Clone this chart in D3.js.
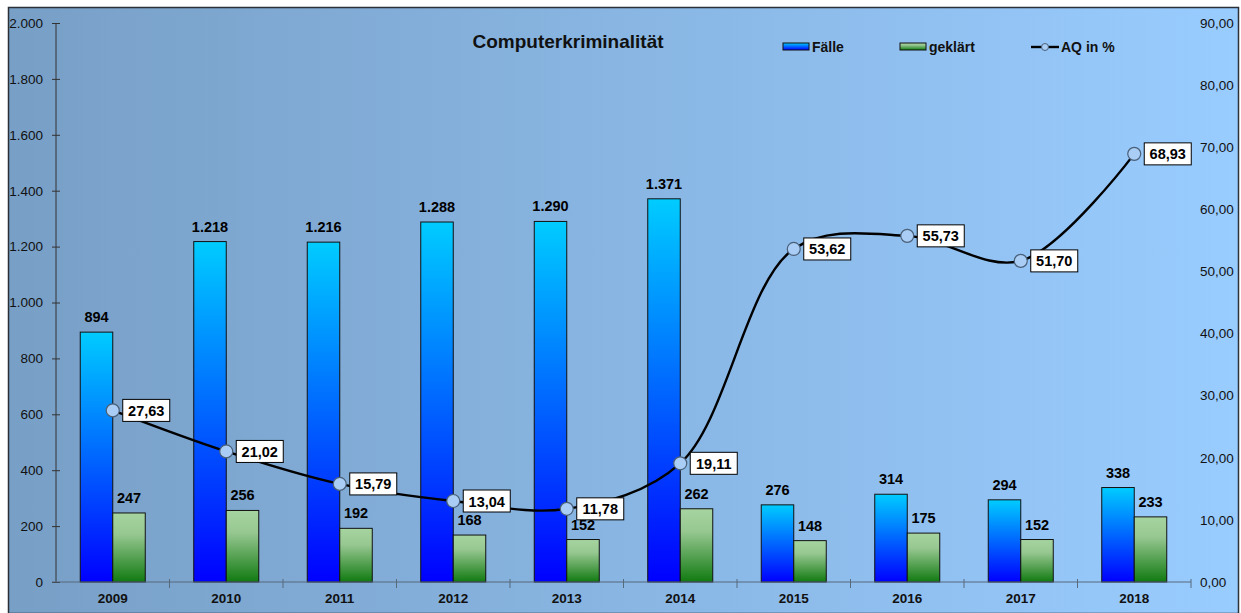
<!DOCTYPE html>
<html><head><meta charset="utf-8">
<script src="https://cdn.jsdelivr.net/npm/d3@7"></script>
<style>html,body{margin:0;padding:0;background:#fff}svg{display:block;font-family:"Liberation Sans",Arial,sans-serif}</style>
</head><body>
<svg id="c" width="1241" height="613"></svg>
<script>
const years = ["2009","2010","2011","2012","2013","2014","2015","2016","2017","2018"];
const faelle = [894,1218,1216,1288,1290,1371,276,314,294,338];
const geklaert = [247,256,192,168,152,262,148,175,152,233];
const aq = [27.63,21.02,15.79,13.04,11.78,19.11,53.62,55.73,51.70,68.93];
const leftTicks = [0,200,400,600,800,1000,1200,1400,1600,1800,2000];
const rightTicks = [0,10,20,30,40,50,60,70,80,90];

const de = d3.formatLocale({decimal:",", thousands:".", grouping:[3], currency:["","€"]});
const fmtInt = de.format(",d");
const fmtPct = de.format(",.2f");

const svg = d3.select("#c");
const defs = svg.append("defs");

const bg = defs.append("linearGradient").attr("id","bg").attr("x1",0).attr("x2",1).attr("y1",0).attr("y2",0);
bg.append("stop").attr("offset",0).attr("stop-color","#789fc6");
bg.append("stop").attr("offset",1).attr("stop-color","#99ccff");

const gF = defs.append("linearGradient").attr("id","gF").attr("x1",0).attr("x2",0).attr("y1",0).attr("y2",1);
gF.append("stop").attr("offset",0).attr("stop-color","#00ccff");
gF.append("stop").attr("offset",1).attr("stop-color","#0000ff");
const gG = defs.append("linearGradient").attr("id","gG").attr("x1",0).attr("x2",0).attr("y1",0).attr("y2",1);
gG.append("stop").attr("offset",0).attr("stop-color","#a6d4a0");
gG.append("stop").attr("offset",0.3).attr("stop-color","#98c892");
gG.append("stop").attr("offset",1).attr("stop-color","#117a11");

// outer frame
svg.append("rect").attr("x",8.5).attr("y",7.5).attr("width",1230).attr("height",606)
  .attr("fill","url(#bg)").attr("stroke","#2b2f36").attr("stroke-width",1.5);

const plotL = 56, plotR = 1191, plotT = 23, plotB = 582;
const x = d3.scaleBand().domain(years).range([plotL,plotR]);
const yL = d3.scaleLinear().domain([0,2000]).range([plotB,plotT]);
const yR = d3.scaleLinear().domain([0,90]).range([plotB,plotT]);
const barW = 32.5;

// left axis
const axL = svg.append("g").attr("transform",`translate(${plotL},0)`)
  .call(d3.axisLeft(yL).tickValues(leftTicks).tickFormat(d=>fmtInt(d)).tickSize(4).tickPadding(9));
axL.selectAll(".tick line").attr("x2",4).attr("x1",-4);
axL.select(".domain").remove();
axL.append("line").attr("x1",0).attr("x2",0).attr("y1",plotT).attr("y2",plotB).attr("stroke","#333");
axL.selectAll("line").attr("stroke","#333");
axL.selectAll("text").attr("font-size",13.5).attr("fill","#111").attr("font-family","Liberation Sans, Arial");

// right axis labels
const axR = svg.append("g").attr("transform",`translate(${plotR},0)`)
  .call(d3.axisRight(yR).tickValues(rightTicks).tickFormat(d=>fmtPct(d)).tickSize(0).tickPadding(9));
axR.select(".domain").remove();
axR.selectAll("text").attr("font-size",13.5).attr("fill","#111").attr("font-family","Liberation Sans, Arial");

// bars
const gb = svg.append("g");
gb.selectAll(".bf").data(years).join("rect")
  .attr("x",d=>x(d)+x.bandwidth()/2-barW).attr("width",barW)
  .attr("y",(d,i)=>yL(faelle[i])).attr("height",(d,i)=>plotB-yL(faelle[i]))
  .attr("fill","url(#gF)").attr("stroke","#111").attr("stroke-width",1);
gb.selectAll(".bg").data(years).join("rect")
  .attr("x",d=>x(d)+x.bandwidth()/2).attr("width",barW)
  .attr("y",(d,i)=>yL(geklaert[i])).attr("height",(d,i)=>plotB-yL(geklaert[i]))
  .attr("fill","url(#gG)").attr("stroke","#111").attr("stroke-width",1);

// x axis
const axX = svg.append("g").attr("transform",`translate(0,${plotB})`);
axX.append("line").attr("x1",plotL-4).attr("x2",plotR).attr("stroke","#56697d").attr("stroke-width",1.2);
const bounds = years.map(d=>x(d)).concat([plotR]);
axX.selectAll(".t").data(bounds.slice(1)).join("line")
  .attr("x1",d=>d).attr("x2",d=>d).attr("y1",-3).attr("y2",6).attr("stroke","#56697d");
axX.selectAll(".l").data(years).join("text")
  .attr("x",d=>x(d)+x.bandwidth()/2).attr("y",20.5).attr("text-anchor","middle")
  .attr("font-size",13.5).attr("font-weight","bold").attr("fill","#111").text(d=>d);

// bar value labels
const lbl = svg.append("g").attr("font-size",14.5).attr("font-weight","bold").attr("fill","#000").attr("text-anchor","middle");
lbl.selectAll(".vf").data(years).join("text")
  .attr("x",d=>x(d)+x.bandwidth()/2-barW/2).attr("y",(d,i)=>yL(faelle[i])-10).text((d,i)=>fmtInt(faelle[i]));
lbl.selectAll(".vg").data(years).join("text")
  .attr("x",d=>x(d)+x.bandwidth()/2+barW/2).attr("y",(d,i)=>yL(geklaert[i])-10).text((d,i)=>fmtInt(geklaert[i]));

// AQ line
const pts = years.map((d,i)=>[x(d)+x.bandwidth()/2, yR(aq[i])]);
svg.append("path").attr("d",d3.line().curve(d3.curveCatmullRom.alpha(0.5))(pts))
  .attr("fill","none").attr("stroke","#000").attr("stroke-width",2.4);
svg.selectAll(".pt").data(pts).join("circle")
  .attr("cx",d=>d[0]).attr("cy",d=>d[1]).attr("r",6.5)
  .attr("fill","#a9cdf5").attr("stroke","#4a5f78").attr("stroke-width",1.2);

const pl = svg.append("g");
pts.forEach((p,i)=>{
  const g = pl.append("g").attr("transform",`translate(${p[0]+10},${p[1]})`);
  g.append("rect").attr("x",0).attr("y",-11).attr("width",47).attr("height",22)
    .attr("fill","#fff").attr("stroke","#000").attr("stroke-width",1);
  g.append("text").attr("x",23.5).attr("y",5.5).attr("text-anchor","middle")
    .attr("font-size",14.5).attr("font-weight","bold").text(fmtPct(aq[i]));
});

// title
svg.append("text").attr("x",568).attr("y",48).attr("text-anchor","middle")
  .attr("font-size",19).attr("font-weight","bold").attr("fill","#111").text("Computerkriminalität");

// legend
const lg = svg.append("g").attr("font-size",14).attr("font-weight","bold").attr("fill","#111");
lg.append("rect").attr("x",783).attr("y",43).attr("width",26).attr("height",7).attr("fill","url(#gF)").attr("stroke","#111");
lg.append("text").attr("x",812).attr("y",52).text("Fälle");
lg.append("rect").attr("x",900).attr("y",43).attr("width",26).attr("height",7).attr("fill","url(#gG)").attr("stroke","#111");
lg.append("text").attr("x",929).attr("y",52).text("geklärt");
lg.append("line").attr("x1",1031).attr("x2",1059).attr("y1",47).attr("y2",47).attr("stroke","#000").attr("stroke-width",2.4);
lg.append("circle").attr("cx",1045).attr("cy",47).attr("r",3.5).attr("fill","#a9cdf5").attr("stroke","#4a5f78");
lg.append("text").attr("x",1061).attr("y",52).text("AQ in %");
</script>
</body></html>
